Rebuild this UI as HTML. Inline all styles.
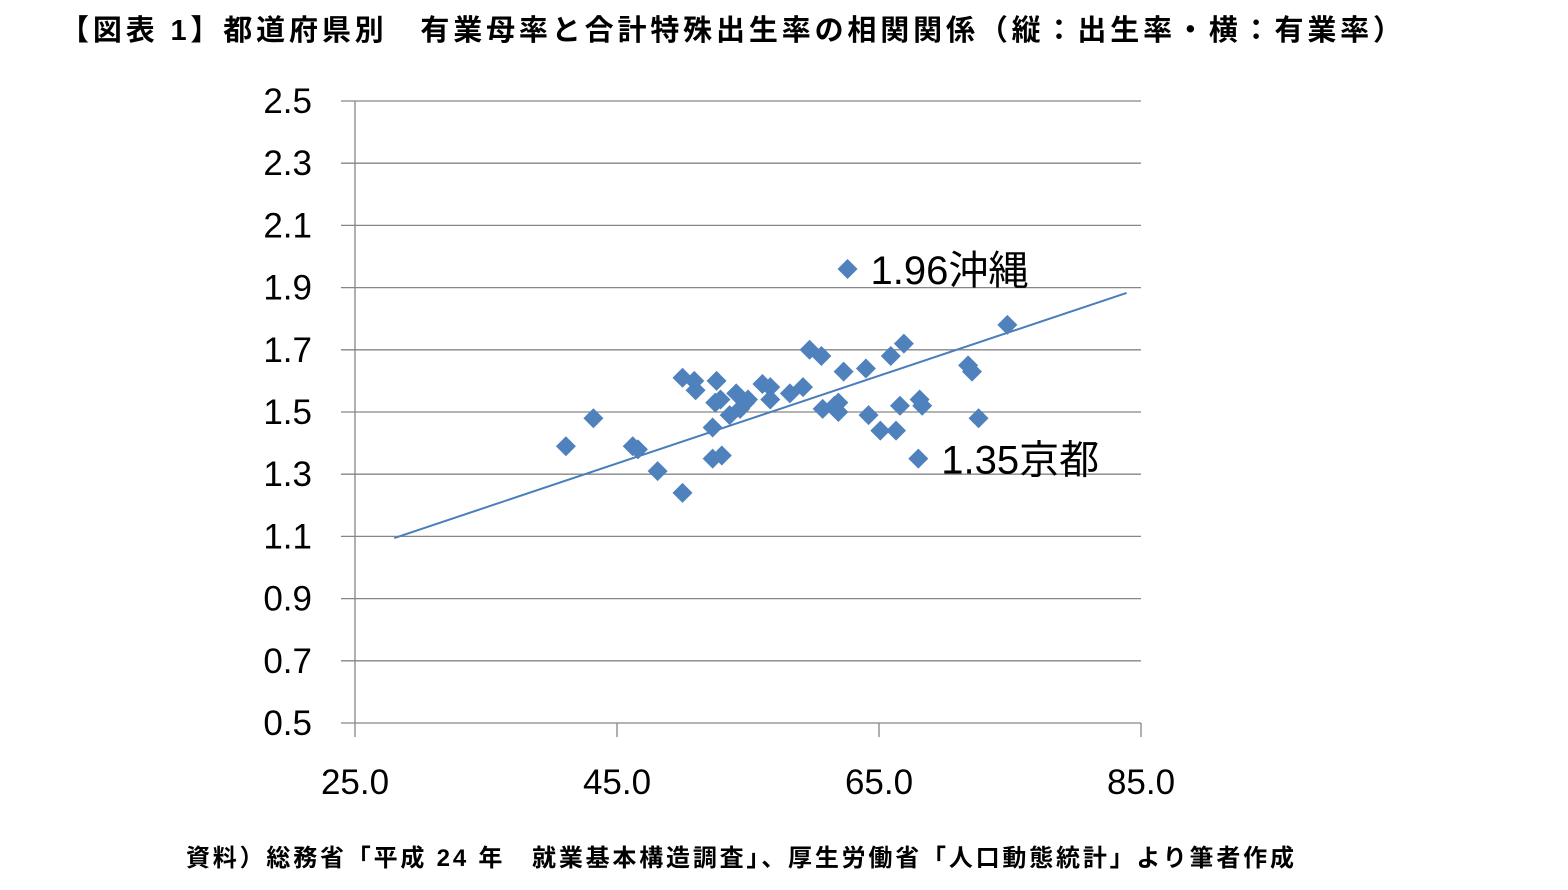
<!DOCTYPE html>
<html><head><meta charset="utf-8"><style>
body{margin:0;background:#fff;width:1568px;height:885px;overflow:hidden}
svg text{font-family:"Liberation Sans","Noto Sans CJK JP",sans-serif}
</style></head><body>
<svg id="c" width="1568" height="885">
<text x="60" y="40" font-size="29" font-weight="bold" letter-spacing="3.85" fill="#000">【図表 1】都道府県別　有業母率と合計特殊出生率の相関関係（縦：出生率・横：有業率）</text>
<text x="186" y="866" font-size="24" font-weight="bold" letter-spacing="2.8" fill="#000">資料）総務省「平成 24 年　就業基本構造調査」、厚生労働省「人口動態統計」より筆者作成</text>
<g id="plot"></g>
</svg>
<script>
const xVals=[41.1,43.2,46.2,46.6,48.1,50.0,50.0,50.9,51.0,52.6,52.3,52.3,53.0,52.5,52.9,53.6,54.1,54.4,54.8,55.0,56.1,56.7,56.7,58.2,59.2,59.7,60.6,60.7,61.6,61.9,61.9,62.3,62.6,64.0,64.2,65.1,65.9,66.3,66.6,66.9,68.1,68.3,68.0,71.8,72.1,72.6,74.8];
const yVals=[1.39,1.48,1.39,1.38,1.31,1.61,1.24,1.60,1.57,1.60,1.45,1.35,1.36,1.53,1.54,1.49,1.56,1.51,1.53,1.54,1.59,1.58,1.54,1.56,1.58,1.70,1.68,1.51,1.52,1.53,1.50,1.63,1.96,1.64,1.49,1.44,1.68,1.44,1.52,1.72,1.54,1.52,1.35,1.65,1.63,1.48,1.78];
const yTicks=[0.5,0.7,0.9,1.1,1.3,1.5,1.7,1.9,2.1,2.3,2.5];
const xTicks=[25,45,65,85];
const trendX=[28.0,83.9];
const trendCoef=[0.700,0.0141];
const annotations=[{x:62.6,y:1.96,label:"1.96沖縄"},{x:68.0,y:1.35,label:"1.35京都"}];
const NS="http://www.w3.org/2000/svg";
const g=document.getElementById('plot');
const X=v=>355+(v-25)*(1141-355)/60;
const Y=v=>723-(v-0.5)*(723-101)/2;
function mk(t,a,txt){const e=document.createElementNS(NS,t);for(const k in a)e.setAttribute(k,a[k]);if(txt!==undefined)e.textContent=txt;g.appendChild(e);return e;}
yTicks.forEach(t=>{
 const l=mk('line',{x1:341,x2:1141,y1:Y(t),y2:Y(t),stroke:'#868686','stroke-width':1.3});
 
 
 const tx=mk('text',{x:312,y:Y(t)+12,'font-size':35,'text-anchor':'end',fill:'#000'},t.toFixed(1));
 
 
});
const ax=mk('line',{x1:355,x2:355,y1:101,y2:723,stroke:'#868686','stroke-width':1.3});


xTicks.forEach(t=>{
 const l=mk('line',{x1:X(t),x2:X(t),y1:723,y2:737,stroke:'#868686','stroke-width':1.3});
 
 
 const tx=mk('text',{x:X(t),y:794,'font-size':35,'text-anchor':'middle',fill:'#000'},t.toFixed(1));
 
 
});
const tl=mk('line',{x1:X(trendX[0]),y1:Y(trendCoef[0]+trendCoef[1]*trendX[0]),x2:X(trendX[1]),y2:Y(trendCoef[0]+trendCoef[1]*trendX[1]),stroke:'#4a7ebb','stroke-width':2});


xVals.forEach((v,i)=>{
 const cx=X(v),cy=Y(yVals[i]),r=10;
 const p=mk('polygon',{points:`${cx},${cy-r} ${cx+r},${cy} ${cx},${cy+r} ${cx-r},${cy}`,fill:'#4f81bd'});
 
 
});
annotations.forEach(a=>{
 const t=mk('text',{x:X(a.x)+23,y:Y(a.y)+15,'font-size':40,fill:'#000'},a.label);
 
 
});
</script>
</body></html>
